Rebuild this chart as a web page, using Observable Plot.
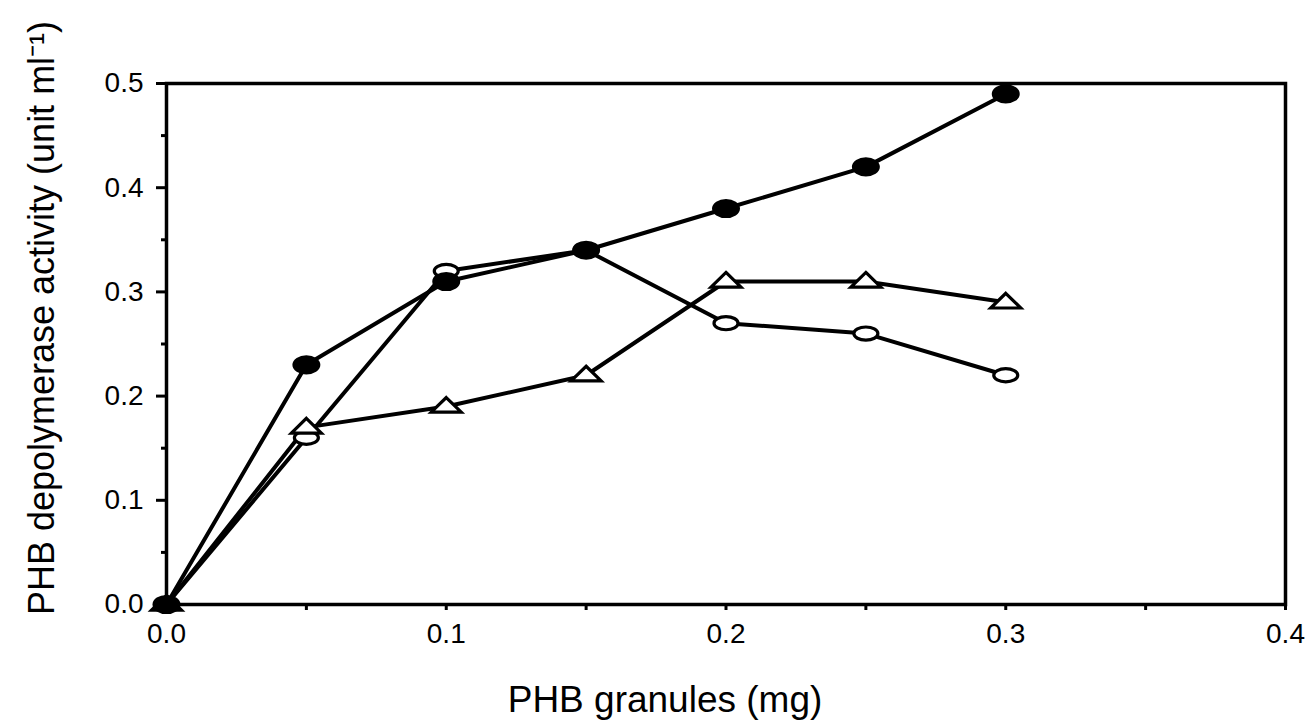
<!DOCTYPE html>
<html>
<head>
<meta charset="utf-8">
<script src="https://cdn.jsdelivr.net/npm/d3@7"></script>
<script src="https://cdn.jsdelivr.net/npm/@observablehq/plot@0.6"></script>
<style>
  html, body { margin: 0; padding: 0; background: white; }
</style>
</head>
<body>
<div id="chart"></div>
<script>
// ---- data ----
const xValues = [0, 0.05, 0.1, 0.15, 0.2, 0.25, 0.3];
const filledCircle = [0, 0.23, 0.31, 0.34, 0.38, 0.42, 0.49];
const openCircle = [0, 0.16, 0.32, 0.34, 0.27, 0.26, 0.22];
const openTriangle = [0, 0.17, 0.19, 0.22, 0.31, 0.31, 0.29];

const xMajorTicks = [0, 0.1, 0.2, 0.3, 0.4];
const xMinorTicks = [0.05, 0.15, 0.25, 0.35];
const yMajorTicks = [0, 0.1, 0.2, 0.3, 0.4, 0.5];
const yMinorTicks = [0.05, 0.15, 0.25, 0.35, 0.45];

const xTitle = "PHB granules (mg)";
const yTitle = "PHB depolymerase activity (unit ml\u207B\u00B9)";

const toRows = (ys) => xValues.map((x, i) => ({x, y: ys[i]}));
const filledRows = toRows(filledCircle);
const openRows = toRows(openCircle);
const triRows = toRows(openTriangle);

// ---- custom symbols ----
function ellipseSymbol(ratio) {
  return {
    draw(ctx, size) {
      const r = Math.sqrt(size / Math.PI);
      const rx = r, ry = r * ratio, k = 0.5523;
      ctx.moveTo(rx, 0);
      ctx.bezierCurveTo(rx, k * ry, k * rx, ry, 0, ry);
      ctx.bezierCurveTo(-k * rx, ry, -rx, k * ry, -rx, 0);
      ctx.bezierCurveTo(-rx, -k * ry, -k * rx, -ry, 0, -ry);
      ctx.bezierCurveTo(k * rx, -ry, rx, -k * ry, rx, 0);
      ctx.closePath();
    }
  };
}
const flatTriangle = {
  draw(ctx, size) {
    const r = Math.sqrt(size / Math.PI);
    ctx.moveTo(0, -0.6 * r);
    ctx.lineTo(r, 0.38 * r);
    ctx.lineTo(-r, 0.38 * r);
    ctx.closePath();
  }
};

const fmt = d3.format(".1f");
const font = "'Liberation Sans', Arial, Helvetica, sans-serif";

const chart = Plot.plot({
  width: 1314,
  height: 720,
  marginLeft: 166,
  marginRight: 29,
  marginTop: 83,
  marginBottom: 116,
  x: {domain: [0, 0.4]},
  y: {domain: [0, 0.5]},
  style: {fontFamily: font, background: "white", color: "black"},
  marks: [
    Plot.axisX(xMajorTicks, {tickSize: 6, tickPadding: 13, tickFormat: fmt, fontSize: 28, strokeWidth: 3, label: null}),
    Plot.axisX(xMinorTicks, {tickSize: 6, tickFormat: () => "", strokeWidth: 3, label: null}),
    Plot.axisY(yMajorTicks, {tickSize: 10, tickPadding: 13, tickFormat: fmt, fontSize: 28, strokeWidth: 3, label: null}),
    Plot.axisY(yMinorTicks, {tickSize: 5, tickFormat: () => "", strokeWidth: 3, label: null}),
    Plot.frame({stroke: "black", strokeWidth: 3.5}),
    Plot.line(openRows, {x: "x", y: "y", stroke: "black", strokeWidth: 4}),
    Plot.line(triRows, {x: "x", y: "y", stroke: "black", strokeWidth: 4}),
    Plot.line(filledRows, {x: "x", y: "y", stroke: "black", strokeWidth: 4}),
    Plot.dot(openRows, {x: "x", y: "y", r: 12, symbol: ellipseSymbol(0.55), fill: "white", stroke: "black", strokeWidth: 3.2}),
    Plot.dot(triRows, {x: "x", y: "y", r: 15, symbol: flatTriangle, fill: "white", stroke: "black", strokeWidth: 3.2}),
    Plot.dot(filledRows, {x: "x", y: "y", r: 13, symbol: ellipseSymbol(0.66), fill: "black", stroke: "black", strokeWidth: 2}),
    Plot.text([xTitle], {frameAnchor: "bottom", textAnchor: "middle", lineAnchor: "middle", dx: -61, dy: 96, fontSize: 37, fill: "black"}),
    Plot.text([yTitle], {frameAnchor: "left", textAnchor: "middle", lineAnchor: "middle", rotate: -90, dx: -124, dy: -26, fontSize: 36, fill: "black"})
  ]
});
document.getElementById("chart").appendChild(chart);
</script>
</body>
</html>
